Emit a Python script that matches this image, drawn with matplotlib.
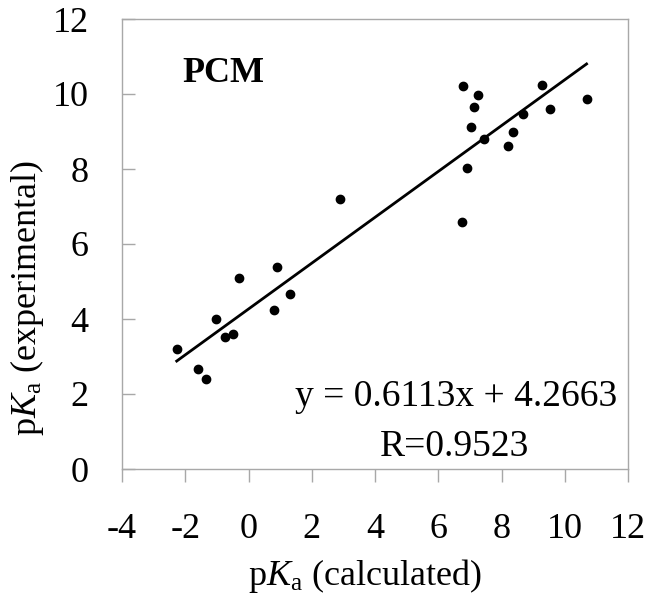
import matplotlib
matplotlib.use("Agg")
import matplotlib.pyplot as plt
import numpy as np

plt.rcParams["font.family"] = "Liberation Serif"
plt.rcParams["mathtext.fontset"] = "custom"
plt.rcParams["mathtext.rm"] = "Liberation Serif"
plt.rcParams["mathtext.it"] = "Liberation Serif:italic"

# pKa values
pka_calc = [-2.27, -1.60, -1.33, -1.03, -0.75, -0.49, -0.31, 0.80, 0.91, 1.32,
            2.90, 6.75, 6.77, 6.91, 7.03, 7.14, 7.25, 7.45, 8.19, 8.36,
            8.67, 9.29, 9.52, 10.69]
pka_exp = [3.21, 2.67, 2.39, 4.01, 3.53, 3.60, 5.10, 4.23, 5.38, 4.67,
           7.20, 6.58, 10.22, 8.03, 9.13, 9.66, 9.98, 8.81, 8.61, 8.99,
           9.47, 10.24, 9.61, 9.87]

slope = 0.6113
intercept = 4.2663
r_value = 0.9523

xticks = [-4, -2, 0, 2, 4, 6, 8, 10, 12]
yticks = [0, 2, 4, 6, 8, 10, 12]

FS = 26
GRAY = "#a8a8a8"

fig = plt.figure(figsize=(6.54, 6.10), dpi=100)
ax = fig.add_axes([122/654, 1 - 469/610, 506/654, 450/610])

ax.plot(pka_calc, pka_exp, "o", color="black", markersize=6, zorder=3)

# trend line over the data range
xl = np.array([min(pka_calc), max(pka_calc)])
ax.plot(xl, slope*xl + intercept, color="black", lw=2.0, zorder=2)

ax.set_xlim(-4, 12)
ax.set_ylim(0, 12)
ax.set_xticks(xticks)
ax.set_yticks(yticks)
ax.set_xticklabels([str(t) for t in xticks], fontsize=FS)
ax.set_yticklabels([str(t) for t in yticks], fontsize=FS)

for s in ax.spines.values():
    s.set_color(GRAY)
    s.set_linewidth(1.0)

ax.tick_params(axis="x", direction="out", length=9, width=1.0, color=GRAY, pad=23)
ax.tick_params(axis="y", direction="in", length=9.5, width=1.0, color=GRAY, pad=24)

ax.set_xlabel(r"p$K_\mathrm{a}$ (calculated)", fontsize=FS)
ax.set_ylabel(r"p$K_\mathrm{a}$ (experimental)", fontsize=FS)
ax.xaxis.set_label_coords(0.48, -0.195)
ax.yaxis.set_label_coords(-0.15, 0.38)

ax.text(0.119, 0.861, "PCM", transform=ax.transAxes, fontsize=FS,
        fontweight="bold", ha="left", va="baseline")
ax.text(0.66, 0.14, "y = %.4fx + %.4f" % (slope, intercept),
        transform=ax.transAxes, fontsize=FS + 1, ha="center", va="baseline")
ax.text(0.657, 0.03, "R=%.4f" % r_value, transform=ax.transAxes,
        fontsize=FS + 1, ha="center", va="baseline")

fig.savefig("out.png", dpi=100)
